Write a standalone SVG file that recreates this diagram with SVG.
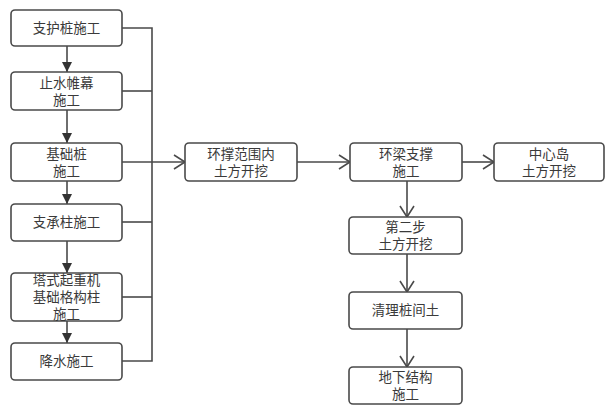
<svg xmlns="http://www.w3.org/2000/svg" width="607" height="406" viewBox="0 0 607 406">
<style>
.box{fill:#fff;stroke:#4a4a4a;stroke-width:1.6}
.t{font-family:"Liberation Sans","Noto Sans CJK SC",sans-serif;font-size:13.5px;fill:#3a3a3a;text-anchor:middle;dominant-baseline:central}
.c{fill:none;stroke:#4a4a4a;stroke-width:1.6}
</style>
<defs>
<marker id="fa" markerUnits="userSpaceOnUse" markerWidth="12" markerHeight="12" refX="10" refY="5" orient="auto">
<path d="M0,0 L10,5 L0,10 z" fill="#333"/>
</marker>
<marker id="oa" markerUnits="userSpaceOnUse" markerWidth="16" markerHeight="18" refX="12" refY="8" orient="auto">
<path d="M1,1 L12,8 L1,15" fill="none" stroke="#4a4a4a" stroke-width="1.6"/>
</marker>
</defs>
<rect width="607" height="406" fill="#fff"/>
<g id="connectors">
<path class="c" d="M67,46 V72" marker-end="url(#fa)"/>
<path class="c" d="M67,110 V143" marker-end="url(#fa)"/>
<path class="c" d="M67,181 V204" marker-end="url(#fa)"/>
<path class="c" d="M67,241 V273" marker-end="url(#fa)"/>
<path class="c" d="M67,321 V343" marker-end="url(#fa)"/>
<path class="c" d="M122,28 H152 V361 H122"/>
<path class="c" d="M122,91 H152"/>
<path class="c" d="M122,222 H152"/>
<path class="c" d="M122,297 H152"/>
<path class="c" d="M122,162 H185" marker-end="url(#oa)"/>
<path class="c" d="M297,162 H350" marker-end="url(#oa)"/>
<path class="c" d="M462,162 H494" marker-end="url(#oa)"/>
<path class="c" d="M407,181 V217" marker-end="url(#oa)"/>
<path class="c" d="M407,254 V292" marker-end="url(#oa)"/>
<path class="c" d="M407,329 V367" marker-end="url(#oa)"/>
</g>
<g id="n1"><rect class="box" x="11" y="10" width="111" height="36" rx="4"/><text class="t" x="66.5" y="28">支护桩施工</text></g>
<g id="n2"><rect class="box" x="11" y="72" width="111" height="38" rx="4"/><text class="t" x="66.5" y="83">止水帷幕</text><text class="t" x="66.5" y="100">施工</text></g>
<g id="n3"><rect class="box" x="11" y="143" width="111" height="38" rx="4"/><text class="t" x="66.5" y="154">基础桩</text><text class="t" x="66.5" y="171">施工</text></g>
<g id="n4"><rect class="box" x="11" y="204" width="111" height="37" rx="4"/><text class="t" x="66.5" y="222.5">支承柱施工</text></g>
<g id="n5"><rect class="box" x="11" y="273" width="111" height="48" rx="4"/><text class="t" x="66.5" y="280">塔式起重机</text><text class="t" x="66.5" y="297">基础格构柱</text><text class="t" x="66.5" y="314">施工</text></g>
<g id="n6"><rect class="box" x="11" y="343" width="111" height="37" rx="4"/><text class="t" x="66.5" y="361.5">降水施工</text></g>
<g id="n7"><rect class="box" x="185" y="143" width="112" height="38" rx="4"/><text class="t" x="241" y="154">环撑范围内</text><text class="t" x="241" y="171">土方开挖</text></g>
<g id="n8"><rect class="box" x="350" y="143" width="112" height="38" rx="4"/><text class="t" x="406" y="154">环梁支撑</text><text class="t" x="406" y="171">施工</text></g>
<g id="n9"><rect class="box" x="494" y="143" width="110" height="38" rx="4"/><text class="t" x="549" y="154">中心岛</text><text class="t" x="549" y="171">土方开挖</text></g>
<g id="n10"><rect class="box" x="349" y="217" width="113" height="37" rx="4"/><text class="t" x="405.5" y="227.5">第二步</text><text class="t" x="405.5" y="244.5">土方开挖</text></g>
<g id="n11"><rect class="box" x="349" y="292" width="113" height="37" rx="4"/><text class="t" x="405.5" y="310.5">清理桩间土</text></g>
<g id="n12"><rect class="box" x="349" y="367" width="113" height="37" rx="4"/><text class="t" x="405.5" y="377.5">地下结构</text><text class="t" x="405.5" y="394.5">施工</text></g>
</svg>
